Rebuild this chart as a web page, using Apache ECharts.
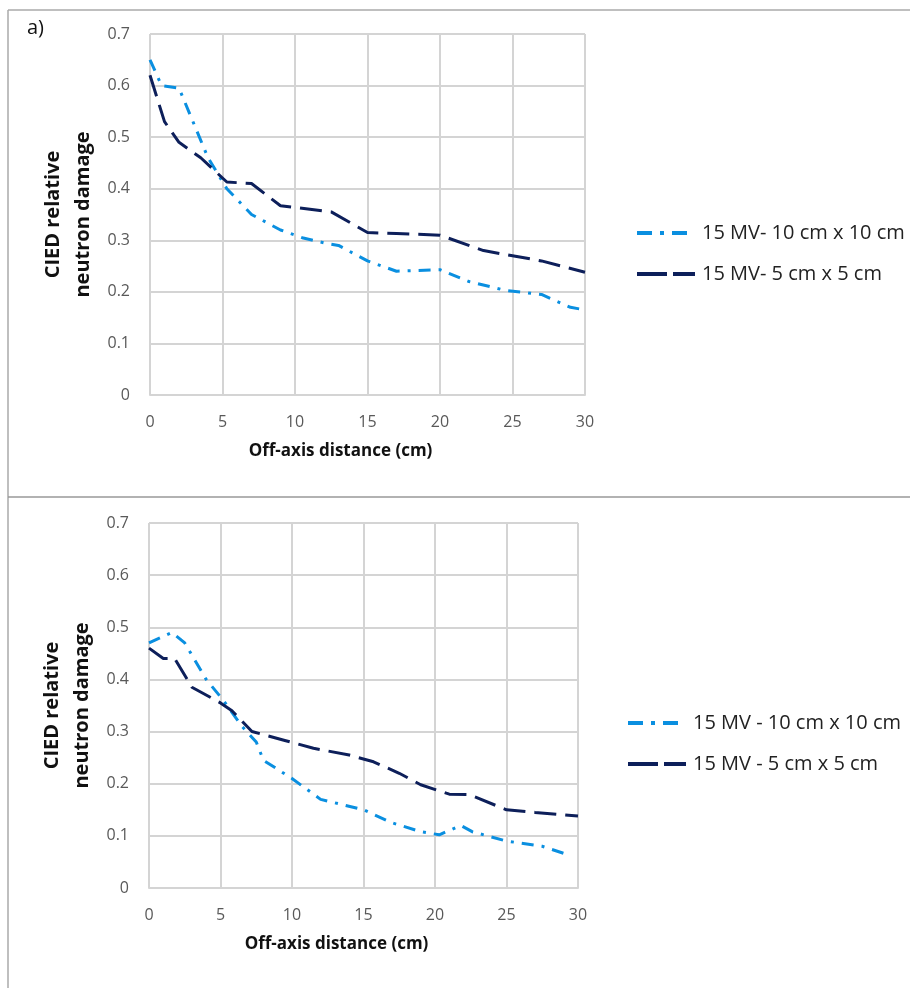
<!DOCTYPE html>
<html>
<head>
<meta charset="utf-8">
<script src="https://cdn.jsdelivr.net/npm/echarts@6/dist/echarts.min.js"></script>
<style>
  html, body { margin: 0; padding: 0; background: #fff; }
  #chart { width: 910px; height: 988px; }
</style>
</head>
<body>
<div id="chart"></div>
<script>
// panel a) — 15 MV, off-axis distance (cm) vs relative damage
const topNames = ['15 MV- 10 cm x 10 cm', '15 MV- 5 cm x 5 cm']
const top10x10 = [[0, 0.65], [0.8, 0.60], [2, 0.595], [4, 0.46], [5.3, 0.40], [7, 0.35], [9, 0.32],
  [10.5, 0.305], [12, 0.295], [13, 0.29], [15, 0.26], [17, 0.24], [20, 0.243], [22, 0.22],
  [24.5, 0.203], [27, 0.195], [29, 0.17], [30, 0.165]]
const top5x5 = [[0, 0.62], [1, 0.53], [2, 0.49], [3.5, 0.46], [5.3, 0.413], [7, 0.41], [9, 0.367],
  [12.5, 0.355], [15, 0.315], [17, 0.313], [20, 0.31], [23, 0.28], [25, 0.27], [27, 0.26], [30, 0.238]]

// second panel
const botNames = ['15 MV - 10 cm x 10 cm', '15 MV - 5 cm x 5 cm']
const bot10x10 = [[0, 0.47], [1.6, 0.49], [2.5, 0.47], [4, 0.40], [5.2, 0.36], [6.5, 0.31], [7.5, 0.28],
  [8, 0.245], [10, 0.21], [12, 0.17], [13.5, 0.16], [15, 0.15], [17, 0.125], [19, 0.108],
  [20.3, 0.102], [21.8, 0.12], [22.6, 0.108], [25, 0.09], [27.5, 0.08], [29.5, 0.062]]
const bot5x5 = [[0, 0.46], [1, 0.44], [1.8, 0.44], [3, 0.385], [5, 0.355], [5.8, 0.34], [7.2, 0.30],
  [9.5, 0.283], [11.5, 0.268], [14, 0.255], [15.7, 0.242], [17.5, 0.22], [19, 0.198], [21, 0.18],
  [22.4, 0.179], [25, 0.15], [27, 0.145], [30, 0.138]]

const xMax = 30
const xStep = 5
const yMax = 0.7
const yStep = 0.1

const FONT = '"Open Sans", "Noto Sans", sans-serif'
const LIGHT = '#0a8fe0'
const DARK = '#0d1f5a'
const gridLine = { show: true, lineStyle: { color: '#d4d4d4', width: 2 } }

// legend samples: dash-dot and long dash (58 wide, tiny tail keeps the box width)
const ICON_DASHDOT = 'path://M0,0h15v4h-15z M23,0h4v4h-4z M35,0h15v4h-15z M57.9,1.9h0.1v0.2h-0.1z'
const ICON_DASH = 'path://M0,0h30v4h-30z M36,0h22v4h-22z'

const chart = echarts.init(document.getElementById('chart'))

const makeX = (gridIndex) => ({
  type: 'value', gridIndex, min: 0, max: xMax, interval: xStep,
  name: 'Off-axis distance (cm)', nameLocation: 'middle', nameGap: 48,
  nameTextStyle: { fontFamily: FONT, fontSize: 17, fontWeight: 'bold', color: '#111', padding: [0, 54, 0, 0] },
  axisLine: { show: true, lineStyle: { color: '#d4d4d4', width: 2 } },
  axisTick: { show: false },
  axisLabel: { fontFamily: FONT, fontSize: 16, color: '#595959', margin: 19 },
  splitLine: gridLine
})

const makeY = (gridIndex) => ({
  type: 'value', gridIndex, min: 0, max: yMax, interval: yStep,
  name: 'CIED relative\nneutron damage', nameLocation: 'middle', nameGap: 52, nameRotate: 90,
  nameTextStyle: { fontFamily: FONT, fontSize: 20, fontWeight: 'bold', color: '#111', lineHeight: 30 },
  axisLine: { show: false },
  axisTick: { show: false },
  axisLabel: { fontFamily: FONT, fontSize: 16, color: '#595959', margin: 20,
    formatter: v => Math.round(v * 10) / 10 + '' },
  splitLine: gridLine
})

const makeSeries = (name, data, idx, light) => ({
  name, type: 'line', data, xAxisIndex: idx, yAxisIndex: idx,
  symbol: 'none', smooth: false,
  lineStyle: light
    ? { color: LIGHT, width: 3, type: [12, 8, 3, 8] }
    : { color: DARK, width: 3, type: [22, 9] },
  itemStyle: { color: light ? LIGHT : DARK }
})

const legendText = { fontFamily: FONT, fontSize: 20, color: '#222', padding: [0, 0, 0, 2] }
const makeLegend = (names, left, top) => ({
  data: [{ name: names[0], icon: ICON_DASHDOT }, { name: names[1], icon: ICON_DASH }],
  orient: 'vertical', left, top, itemWidth: 58, itemHeight: 4, itemGap: 21,
  symbolKeepAspect: false, textStyle: legendText
})

const option = {
  animation: false,
  backgroundColor: '#fff',
  graphic: [
    { type: 'line', shape: { x1: 8, y1: 10, x2: 910, y2: 10 }, style: { stroke: '#aaa', lineWidth: 1.5 } },
    { type: 'line', shape: { x1: 8, y1: 10, x2: 8, y2: 988 }, style: { stroke: '#aaa', lineWidth: 1.5 } },
    { type: 'line', shape: { x1: 8, y1: 497, x2: 910, y2: 497 }, style: { stroke: '#999', lineWidth: 1.5 } },
    { type: 'text', left: 27, top: 18, style: { text: 'a)', font: '20px ' + FONT, fill: '#111' } }
  ],
  grid: [
    { left: 150, top: 34, width: 435, height: 361 },
    { left: 149, top: 523, width: 429, height: 365 }
  ],
  xAxis: [makeX(0), makeX(1)],
  yAxis: [makeY(0), makeY(1)],
  legend: [makeLegend(topNames, 632, 218), makeLegend(botNames, 623, 708)],
  series: [
    makeSeries(topNames[0], top10x10, 0, true),
    makeSeries(topNames[1], top5x5, 0, false),
    makeSeries(botNames[0], bot10x10, 1, true),
    makeSeries(botNames[1], bot5x5, 1, false)
  ]
}

chart.setOption(option)
window.addEventListener('resize', () => chart.resize())
</script>
</body>
</html>
